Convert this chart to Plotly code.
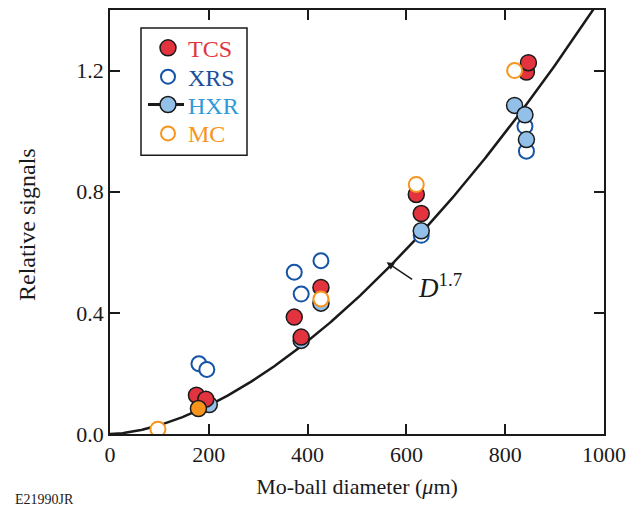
import numpy as np
import plotly.graph_objects as go

# Data
tcs_x = [175, 194, 373, 387, 427, 620, 630, 843, 847]
tcs_y = [0.128, 0.115, 0.386, 0.320, 0.484, 0.791, 0.728, 1.195, 1.226]

xrs_x = [180, 196, 373, 387, 427, 630, 840, 843]
xrs_y = [0.232, 0.213, 0.534, 0.462, 0.572, 0.656, 1.016, 0.934]

hxr_x = [201, 387, 427, 630, 819, 840, 843]
hxr_y = [0.097, 0.309, 0.432, 0.671, 1.085, 1.054, 0.972]

mc_x = [97, 427, 620, 819]
mc_y = [0.016, 0.446, 0.824, 1.200]

mc_fill_x = [179]
mc_fill_y = [0.084]

fit_exponent = 1.7
fit_coef = 1.155e-5

legend_names = ["TCS", "XRS", "HXR", "MC"]
legend_text_colors = ["#e03540", "#1b4f9c", "#2f9ad8", "#f7941d"]

RED = "#e2333f"
DBLUE = "#1553a6"
LBLUE = "#93c0e8"
ORANGE = "#f7941d"
INK = "#1a1a1a"
font = "Liberation Serif"

# The page has an 8px body margin, so the figure is drawn 8px smaller.
W, H = 631, 504
ML, MR, MT, MB = 102, 35, 0, 78
PW, PH = W - ML - MR, H - MT - MB


def px(fx):
    return (fx - ML) / PW


def py(fy):
    return 1 - (fy - MT) / PH


fig = go.Figure()

d = np.linspace(0, 1000, 400)
fig.add_trace(go.Scatter(x=d, y=fit_coef * d ** fit_exponent, mode="lines",
                         line=dict(color=INK, width=2.5), showlegend=False,
                         hoverinfo="skip"))

ms = 16
fig.add_trace(go.Scatter(x=xrs_x, y=xrs_y, mode="markers", showlegend=False,
                         marker=dict(size=ms - 1, color="white", line=dict(color=DBLUE, width=2))))
fig.add_trace(go.Scatter(x=hxr_x, y=hxr_y, mode="markers", showlegend=False,
                         marker=dict(size=ms, color=LBLUE, line=dict(color=INK, width=1.5))))
fig.add_trace(go.Scatter(x=tcs_x, y=tcs_y, mode="markers", showlegend=False,
                         marker=dict(size=ms, color=RED, line=dict(color=INK, width=1.5))))
fig.add_trace(go.Scatter(x=mc_x, y=mc_y, mode="markers", showlegend=False,
                         marker=dict(size=ms - 1, color="white", line=dict(color=ORANGE, width=2))))
fig.add_trace(go.Scatter(x=mc_fill_x, y=mc_fill_y, mode="markers", showlegend=False,
                         marker=dict(size=ms, color=ORANGE, line=dict(color=INK, width=1.5))))

axis_common = dict(showline=True, linecolor=INK, linewidth=1.5, mirror="ticks",
                   ticks="inside", ticklen=10, tickwidth=1.5, tickcolor=INK,
                   showgrid=False, zeroline=False,
                   tickfont=dict(family=font, size=22, color=INK))

# Manual legend
shapes = [dict(type="rect", xref="paper", yref="paper", x0=px(133), x1=px(239),
               y0=py(146), y1=py(18), line=dict(color=INK, width=1.5), fillcolor="white",
               layer="above")]
rows = [38, 67, 95, 124]
mx = 160
shapes.append(dict(type="line", xref="paper", yref="paper", x0=px(140), x1=px(176),
                   y0=py(rows[2]), y1=py(rows[2]), line=dict(color=INK, width=3), layer="above"))
sym_styles = [
    dict(fillcolor=RED, line=dict(color=INK, width=1.5), r=8),
    dict(fillcolor="white", line=dict(color=DBLUE, width=2), r=7),
    dict(fillcolor=LBLUE, line=dict(color=INK, width=1.5), r=8),
    dict(fillcolor="white", line=dict(color=ORANGE, width=2), r=7),
]
for ry, st in zip(rows, sym_styles):
    r = st["r"]
    shapes.append(dict(type="circle", xref="paper", yref="paper",
                       xsizemode="pixel", ysizemode="pixel",
                       xanchor=px(mx), yanchor=py(ry), x0=-r, x1=r, y0=-r, y1=r,
                       fillcolor=st["fillcolor"], line=st["line"], layer="above"))

annotations = []
for ry, name, col in zip(rows, legend_names, legend_text_colors):
    annotations.append(dict(x=px(178), y=py(ry + 1), xref="paper", yref="paper",
                            xanchor="left", yanchor="middle", text=name, showarrow=False,
                            font=dict(family=font, size=24, color=col)))

annotations += [
    dict(x=560, y=0.567, xref="x", yref="y", text=" ",
         showarrow=True, arrowhead=2, arrowsize=1, arrowwidth=1.5, arrowcolor=INK,
         ax=27, ay=18, axref="pixel", ayref="pixel", standoff=0,
         font=dict(family=font, size=1, color=INK)),
    dict(x=668, y=0.49, xref="x", yref="y", text="<i>D</i><sup>1.7</sup>",
         showarrow=False, font=dict(family=font, size=27, color=INK)),
    dict(x=px(5), y=py(492), xref="paper", yref="paper", text="E21990JR",
         xanchor="left", yanchor="middle", showarrow=False,
         font=dict(family=font, size=14, color=INK)),
    dict(x=px(19), y=py(216), xref="paper", yref="paper", text="Relative signals",
         textangle=-90, xanchor="center", yanchor="middle", showarrow=False,
         font=dict(family=font, size=24, color=INK)),
]

fig.update_layout(
    width=W, height=H,
    margin=dict(l=ML, r=MR, t=MT, b=MB),
    paper_bgcolor="white", plot_bgcolor="white",
    font=dict(family=font, color=INK),
    showlegend=False,
    xaxis=dict(range=[0, 1000], tickvals=[0, 200, 400, 600, 800, 1000],
               title=dict(text="Mo-ball diameter (<i>μ</i>m)", font=dict(family=font, size=22),
                          standoff=12),
               **axis_common),
    yaxis=dict(range=[0, 1.4], tickvals=[0, 0.4, 0.8, 1.2], tickformat=".1f",
               **axis_common),
    shapes=shapes,
    annotations=annotations,
)

fig.write_html("out.html")
